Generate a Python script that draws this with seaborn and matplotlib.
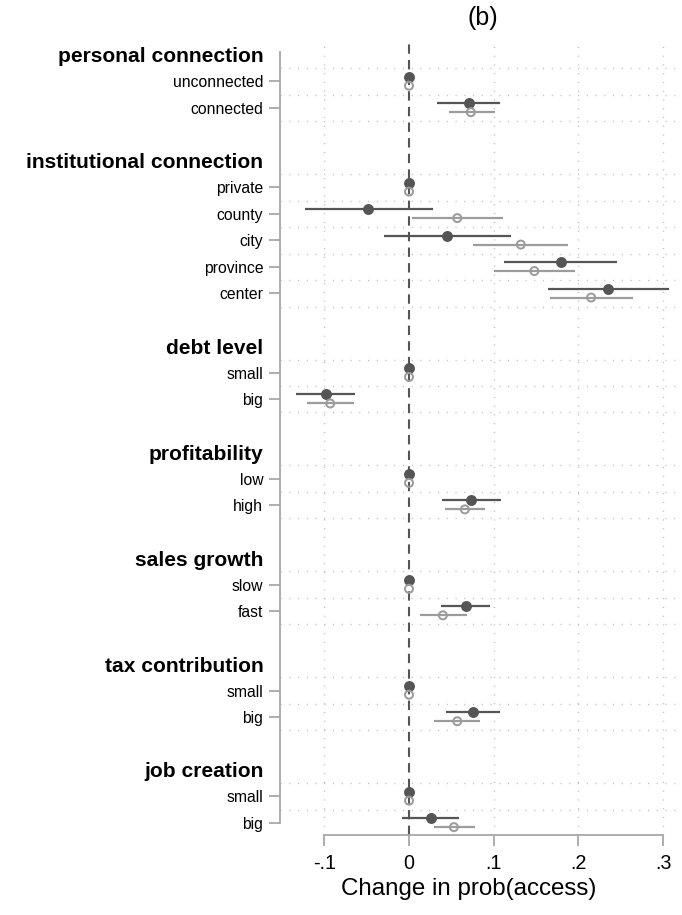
import numpy as np
import pandas as pd
import matplotlib
matplotlib.use("Agg")
import matplotlib.pyplot as plt
import seaborn as sns

# Groups of categorical regressors and their levels (first level is the base)
groups = ["personal connection", "institutional connection", "debt level",
          "profitability", "sales growth", "tax contribution", "job creation"]
levels = [["unconnected", "connected"],
          ["private", "county", "city", "province", "center"],
          ["small", "big"],
          ["low", "high"],
          ["slow", "fast"],
          ["small", "big"],
          ["small", "big"]]

# Marginal effects and 95% intervals, model A (filled) and model B (hollow)
est_a = [0, 0.071, 0, -0.048, 0.045, 0.179, 0.235, 0, -0.098, 0, 0.073, 0, 0.067, 0, 0.075, 0, 0.026]
lo_a  = [0, 0.033, 0, -0.123, -0.030, 0.112, 0.164, 0, -0.133, 0, 0.039, 0, 0.038, 0, 0.044, 0, -0.008]
hi_a  = [0, 0.108, 0, 0.028, 0.121, 0.246, 0.307, 0, -0.064, 0, 0.109, 0, 0.096, 0, 0.107, 0, 0.059]
est_b = [0, 0.073, 0, 0.057, 0.132, 0.148, 0.215, 0, -0.093, 0, 0.066, 0, 0.040, 0, 0.057, 0, 0.053]
lo_b  = [0, 0.047, 0, 0.003, 0.076, 0.100, 0.167, 0, -0.120, 0, 0.042, 0, 0.013, 0, 0.030, 0, 0.029]
hi_b  = [0, 0.101, 0, 0.111, 0.188, 0.196, 0.264, 0, -0.065, 0, 0.090, 0, 0.068, 0, 0.084, 0, 0.078]

xticks = [-0.1, 0, 0.1, 0.2, 0.3]
xticklabels = ["-.1", "0", ".1", ".2", ".3"]

sns.set_theme(style="white")
plt.rcParams["font.family"] = ["Liberation Sans", "DejaVu Sans"]
plt.rcParams["text.color"] = "black"
plt.rcParams["xtick.labelcolor"] = "black"
plt.rcParams["ytick.labelcolor"] = "black"

# Row layout: header row, one row per level, blank row between groups
header_rows, cat_rows, cat_labels, grid_rows = [], [], [], []
r = 0
for g, levs in zip(groups, levels):
    header_rows.append(r)
    grid_rows.append(r + 0.5)
    for lev in levs:
        r += 1
        cat_rows.append(r)
        cat_labels.append(lev)
        grid_rows.append(r + 0.5)
    r += 2

rows = np.array(cat_rows, dtype=float)
df = pd.concat([
    pd.DataFrame({"row": rows - 0.18, "est": est_a, "lo": lo_a, "hi": hi_a, "model": "A"}),
    pd.DataFrame({"row": rows + 0.16, "est": est_b, "lo": lo_b, "hi": hi_b, "model": "B"}),
], ignore_index=True)

dark = "#555555"
light = "#9c9c9c"
grid_c = "#bdbdbd"
axis_c = "#a8a8a8"

fig = plt.figure(figsize=(6.82, 9.15), dpi=100)
ax = fig.add_axes([280 / 682, 1 - 835 / 915, 1 - 280 / 682, (835 - 40) / 915])

# grid lines
for y in grid_rows:
    ax.axhline(y, color=grid_c, lw=1.0, ls=(0, (0.8, 5.5)), zorder=0)
for x in [-0.1, 0.1, 0.2, 0.3]:
    ax.axvline(x, color=grid_c, lw=1.0, ls=(0, (0.8, 5.5)), zorder=0)
ax.axvline(0, color=dark, lw=1.5, ls=(0, (4.5, 3)), zorder=1)

# confidence intervals
a = df[df.model == "A"]
b = df[df.model == "B"]
ax.hlines(a["row"], a["lo"], a["hi"], color=dark, lw=1.6, zorder=2)
ax.hlines(b["row"], b["lo"], b["hi"], color=light, lw=1.6, zorder=2)

# point estimates
sns.scatterplot(data=a, x="est", y="row", ax=ax, color=dark, s=62,
                edgecolor=dark, linewidth=0, zorder=3, legend=False)
sns.scatterplot(data=b, x="est", y="row", ax=ax, facecolor="none", s=33,
                edgecolor=light, linewidth=1.45, zorder=3, legend=False)

ax.set_xlim((280 - 409) / 847, (682 - 409) / 847)
ax.set_ylim(29.456, -0.566)

# y axis: levels on major ticks, group headers on tickless minor ticks
ax.set_yticks(cat_rows)
ax.set_yticklabels(cat_labels, fontsize=11.3)
ax.set_yticks(header_rows, minor=True)
ax.set_yticklabels(groups, minor=True, fontsize=15.1, fontweight="bold")
ax.tick_params(axis="y", which="major", length=8, width=1.3, color=axis_c, pad=4, left=True)
ax.tick_params(axis="y", which="minor", length=0, pad=12, left=True)

ax.set_xticks(xticks)
ax.set_xticklabels(xticklabels, fontsize=14.2)
ax.tick_params(axis="x", length=8, width=1.3, color=axis_c, pad=6, bottom=True)

for s in ["top", "right"]:
    ax.spines[s].set_visible(False)
ax.spines["left"].set_color(axis_c)
ax.spines["left"].set_linewidth(1.3)
ax.spines["left"].set_bounds(29, -0.1)
ax.spines["bottom"].set_color(axis_c)
ax.spines["bottom"].set_linewidth(1.3)
ax.spines["bottom"].set_bounds(-0.1, 0.3)
ax.set_xlabel("")
ax.set_ylabel("")
ax.grid(False)

fig.text(469 / 682, 1 - 889 / 915, "Change in prob(access)", ha="center", va="center", fontsize=17.4)
fig.text(483 / 682, 1 - 18 / 915, "(b)", ha="center", va="center", fontsize=18)

fig.savefig("out.png", dpi=100)
